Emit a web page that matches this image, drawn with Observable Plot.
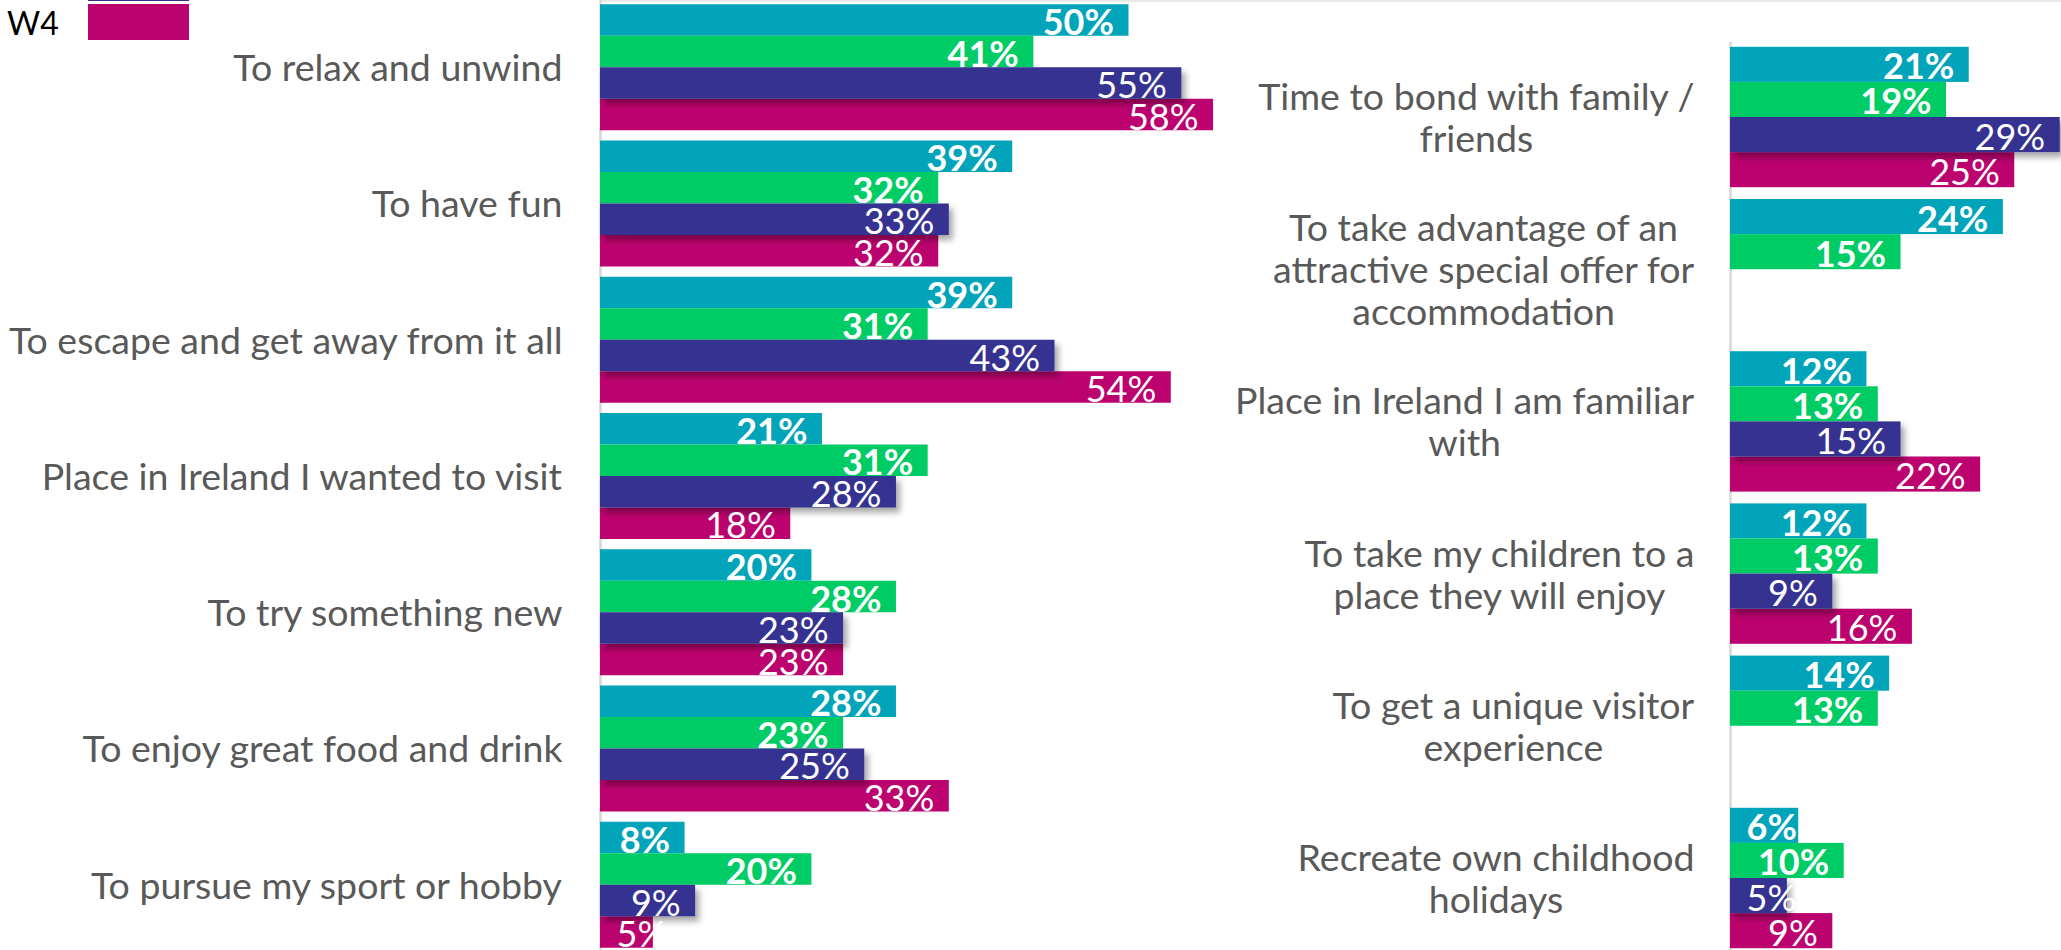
<!DOCTYPE html>
<html>
<head>
<meta charset="utf-8">
<script src="https://cdn.jsdelivr.net/npm/d3@7"></script>
<script src="https://cdn.jsdelivr.net/npm/@observablehq/plot@0.6"></script>
<style>
  html, body { margin: 0; padding: 0; background: #fff; }
  #root { position: relative; width: 2061px; height: 950px; overflow: hidden; font-family: Lato, sans-serif; background: #fff; }
  .panel { position: absolute; top: 0; }
  .panel svg { overflow: visible; background: none; }
  #topline { position: absolute; left: 600px; top: 0; width: 1461px; height: 2px; background: #e9e9e9; }
  #legend { position: absolute; left: 0; top: 0; }
  .lg-row { position: absolute; left: 0; height: 36px; }
  .lg-text { position: absolute; left: 7px; top: 1px; font-size: 32px; line-height: 36px; color: #000; font-family: Lato, sans-serif; }
  .lg-sw { position: absolute; left: 88px; width: 101px; height: 36px; }
</style>
</head>
<body>
<div id="root">
  <div id="topline"></div>
  <div id="left" class="panel" style="left:0px"></div>
  <div id="right" class="panel" style="left:1000px"></div>
  <div id="legend"></div>
</div>
<script>
// ---------- data ----------
const series = ["W1", "W2", "W3", "W4"];
const seriesColors = ["#02A4BA", "#00CC66", "#343391", "#BC026E"];

const leftCategories = [
  "To relax and unwind",
  "To have fun",
  "To escape and get away from it all",
  "Place in Ireland I wanted to visit",
  "To try something new",
  "To enjoy great food and drink",
  "To pursue my sport or hobby"
];
const leftW1 = [50, 39, 39, 21, 20, 28, 8];
const leftW2 = [41, 32, 31, 31, 28, 23, 20];
const leftW3 = [55, 33, 43, 28, 23, 25, 9];
const leftW4 = [58, 32, 54, 18, 23, 33, 5];

const rightCategories = [
  "Time to bond with family /\nfriends",
  "To take advantage of an\nattractive special offer for\naccommodation",
  "Place in Ireland I am familiar\nwith",
  "To take my children to a\nplace they will enjoy",
  "To get a unique visitor\nexperience",
  "Recreate own childhood\nholidays"
];
const rightW1 = [21, 24, 12, 12, 14, 6];
const rightW2 = [19, 15, 13, 13, 13, 10];
const rightW3 = [29, null, 15, 9, null, 5];
const rightW4 = [25, null, 22, 16, null, 9];

function buildRows(cats, cols) {
  const rows = [];
  cats.forEach((c, i) => {
    series.forEach((s, j) => {
      const v = cols[j][i];
      if (v != null) rows.push({category: c, series: s, value: v});
    });
  });
  return rows;
}
const leftRows = buildRows(leftCategories, [leftW1, leftW2, leftW3, leftW4]);
const rightRows = buildRows(rightCategories, [rightW1, rightW2, rightW3, rightW4]);

const SHADOWED = "W3";
const BOLD = ["W1", "W2"];

function panel(cfg) {
  const {cats, rows, width, marginLeft, marginTop, pxPerUnit, pi, po, labelDx, ruleInsetTop} = cfg;
  const xMax = (width - marginLeft) / pxPerUnit;
  const labelFont = 37.5;
  const valueFont = 36;
  const valText = (filterFn, bold, small) => Plot.text(rows.filter(d => filterFn(d) && (small ? d.value < 7 : d.value >= 7)), {
    x: small ? 0 : "value",
    y: "series",
    fy: "category",
    text: d => d.value + "%",
    textAnchor: small ? "start" : "end",
    dx: small ? 16 : -15,
    dy: 3,
    fill: "white",
    fontSize: valueFont,
    fontWeight: bold ? 700 : 400,
    fontFamily: "Lato"
  });
  return Plot.plot({
    width, height: 950,
    marginLeft, marginRight: 0, marginTop, marginBottom: 0,
    style: {background: "none", overflow: "visible", fontFamily: "Lato"},
    x: {domain: [0, xMax], axis: null},
    y: {domain: series, axis: null, padding: 0, round: false},
    fy: {domain: cats, axis: null, paddingInner: pi, paddingOuter: po, round: false, label: null},
    color: {domain: series, range: seriesColors},
    marks: [
      Plot.ruleX([0], {stroke: "#d9d9d9", strokeWidth: 2.5, insetTop: ruleInsetTop, insetBottom: -8}),
      Plot.barX(rows.filter(d => d.series !== SHADOWED), {x: "value", y: "series", fy: "category", fill: "series"}),
      Plot.barX(rows.filter(d => d.series === SHADOWED), {x: "value", y: "series", fy: "category", fill: "series"}),
      valText(d => BOLD.includes(d.series), true, false),
      valText(d => !BOLD.includes(d.series), false, false),
      valText(d => BOLD.includes(d.series), true, true),
      valText(d => !BOLD.includes(d.series), false, true),
      Plot.text(cats, {
        fy: d => d,
        frameAnchor: "left",
        textAnchor: "middle",
        dx: labelDx,
        text: d => d,
        fontSize: labelFont,
        lineHeight: 1.12,
        fill: "#595959",
        fontFamily: "Lato"
      })
    ]
  });
}

function decorate(svg) {
  const s = d3.select(svg);
  const defs = s.insert("defs", ":first-child");
  const f = defs.append("filter").attr("id", "shadow" + Math.random().toString(36).slice(2))
    .attr("x", "-10%").attr("y", "-30%").attr("width", "130%").attr("height", "190%");
  f.append("feDropShadow").attr("dx", 4).attr("dy", 5).attr("stdDeviation", 3)
    .attr("flood-color", "#000").attr("flood-opacity", 0.35);
  const id = f.attr("id");
  s.selectAll(`rect[fill="${seriesColors[2]}"]`).attr("filter", `url(#${id})`);
  // right-align label blocks while centering each line within the block
  s.selectAll('g[fill="#595959"] text').each(function() {
    const bb = this.getBBox();
    const shift = -(bb.x + bb.width);
    const t = this.getAttribute("transform") || "";
    this.setAttribute("transform", t + ` translate(${shift},0)`);
  });
}

const leftSvg = panel({
  cats: leftCategories, rows: leftRows,
  width: 1230, marginLeft: 600, marginTop: 2,
  pxPerUnit: 10.57, pi: 0.0752, po: 0.0165, labelDx: -38, ruleInsetTop: -8
});
const rightSvg = panel({
  cats: rightCategories, rows: rightRows,
  width: 1061, marginLeft: 730, marginTop: 45,
  pxPerUnit: 11.37, pi: 0.0775, po: 0.0118, labelDx: -36, ruleInsetTop: -5
});
document.getElementById("left").appendChild(leftSvg);
document.getElementById("right").appendChild(rightSvg);
decorate(leftSvg);
decorate(rightSvg);

// legend (only its last entry falls inside the picture, as in the reference)
const legend = document.getElementById("legend");
series.forEach((s, i) => {
  const top = 4 - (series.length - 1 - i) * 39;
  if (top + 36 <= 0) return;
  const row = document.createElement("div");
  row.className = "lg-row";
  row.style.top = top + "px";
  row.innerHTML = (top >= 0 ? `<span class="lg-text">${s}</span>` : "") +
    `<span class="lg-sw" style="background:${seriesColors[i]}"></span>`;
  legend.appendChild(row);
});
</script>
</body>
</html>
